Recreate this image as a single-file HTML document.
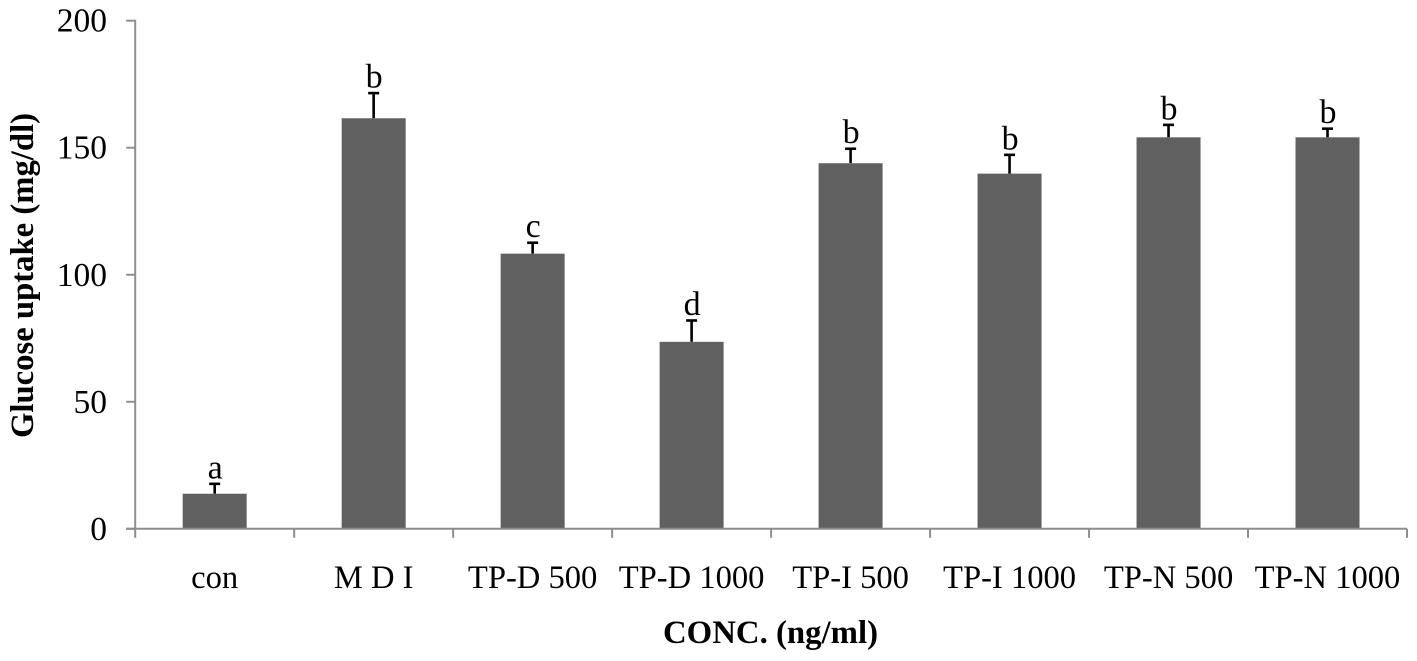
<!DOCTYPE html>
<html lang="en">
<head>
<meta charset="utf-8">
<title>Glucose uptake chart</title>
<style>
html,body{margin:0;padding:0;background:#fff;width:1417px;height:661px;overflow:hidden}
svg{display:block}
text{font-family:"Liberation Serif",serif;fill:#000}
</style>
</head>
<body>
<svg id="chart" xmlns="http://www.w3.org/2000/svg" width="1417" height="661" viewBox="0 0 1417 661">
<rect width="1417" height="661" fill="#fff"/>
<text transform="translate(33,275.5) rotate(-90)" text-anchor="middle" font-size="32.7" font-weight="bold">Glucose uptake (mg/dl)</text>
<text x="770.5" y="643" text-anchor="middle" font-size="32.8" font-weight="bold">CONC. (ng/ml)</text>
</svg>
<script>
const categories = ['con', 'M D I', 'TP-D 500', 'TP-D 1000', 'TP-I 500', 'TP-I 1000', 'TP-N 500', 'TP-N 1000'];
const means = [13.8, 161.6, 108.3, 73.6, 143.9, 139.8, 154.1, 154.1];
const errors = [3.9, 9.9, 4.3, 8.4, 5.7, 7.4, 4.9, 3.4];
const letters = ['a', 'b', 'c', 'd', 'b', 'b', 'b', 'b'];
const yTicks = [0, 50, 100, 150, 200];

const NS = 'http://www.w3.org/2000/svg';
const svg = document.getElementById('chart');
const plot = { left: 135.2, right: 1407, top: 20.7, bottom: 528.8 };
const yMax = 200;
const bandWidth = (plot.right - plot.left) / categories.length;
const barWidth = 64;
const axisColor = '#8e8e8e';

function yScale(v) {
  return plot.bottom - (v / yMax) * (plot.bottom - plot.top);
}
function xBand(i) {
  return plot.left + bandWidth * i;
}
function xCenter(i) {
  return xBand(i) + bandWidth / 2;
}
function make(tag, attrs, content) {
  const el = document.createElementNS(NS, tag);
  for (const k in attrs) el.setAttribute(k, attrs[k]);
  if (content !== undefined) el.textContent = content;
  svg.appendChild(el);
  return el;
}

categories.forEach((cat, i) => {
  const top = yScale(means[i]);
  const errTop = yScale(means[i] + errors[i]);
  const cx = xCenter(i);

  const stem = make('line', { x1: cx, x2: cx, y1: top, y2: errTop, stroke: '#000', 'stroke-width': 2.6 });
  
  

  const cap = make('line', { x1: cx - 5.5, x2: cx + 5.5, y1: errTop, y2: errTop, stroke: '#000', 'stroke-width': 2.6 });
  
  

  const bar = make('rect', { x: cx - barWidth / 2, y: top, width: barWidth, height: yScale(0) - top, fill: '#606060' });
  
  

  const letter = make('text', { x: cx + 0.5, y: errTop - 5.5, 'text-anchor': 'middle', 'font-size': 34 }, letters[i]);
  
  

  const label = make('text', { x: cx, y: 588, 'text-anchor': 'middle', 'font-size': 32.6 }, cat);
  
  
});

const yAxis = make('line', { x1: plot.left, x2: plot.left, y1: plot.top - 1, y2: plot.bottom + 9, stroke: axisColor, 'stroke-width': 2 });



const xAxis = make('line', { x1: plot.left - 9, x2: plot.right, y1: plot.bottom, y2: plot.bottom, stroke: axisColor, 'stroke-width': 2 });



yTicks.forEach(t => {
  const y = yScale(t);
  const tick = make('line', { x1: plot.left - 9, x2: plot.left, y1: y, y2: y, stroke: axisColor, 'stroke-width': 2 });
  
  

  const label = make('text', { x: 107, y: y + 11, 'text-anchor': 'end', 'font-size': 33.5 }, String(t));
  
  
});

for (let i = 1; i <= categories.length; i++) {
  const x = xBand(i);
  const tick = make('line', { x1: x, x2: x, y1: plot.bottom, y2: plot.bottom + 9, stroke: axisColor, 'stroke-width': 2 });
  
  
}
</script>
</body>
</html>
